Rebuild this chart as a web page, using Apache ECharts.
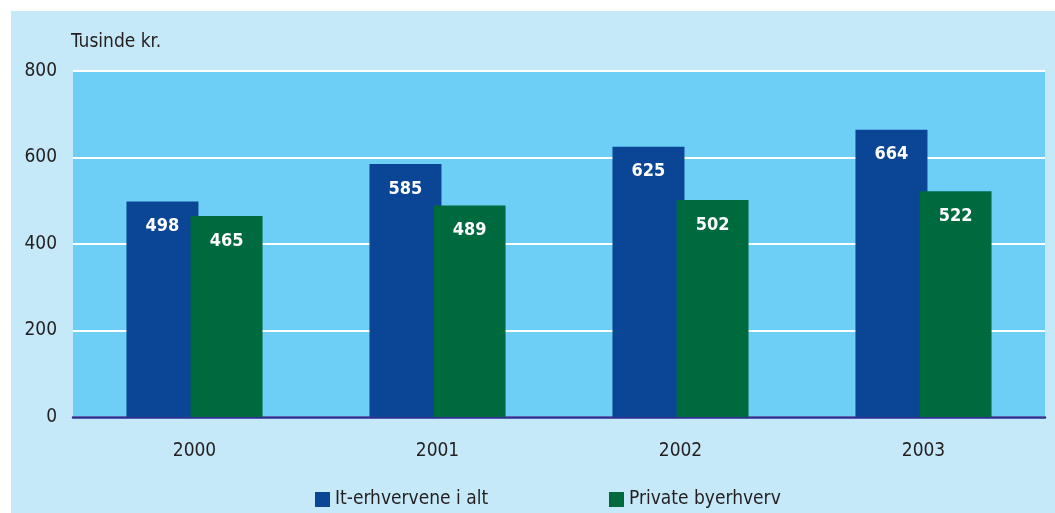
<!DOCTYPE html>
<html>
<head>
<meta charset="utf-8">
<script src="https://cdn.jsdelivr.net/npm/echarts@6/dist/echarts.min.js"></script>
<style>
  html, body { margin: 0; padding: 0; background: #ffffff; }
  #chart { width: 1055px; height: 513px; }
</style>
</head>
<body>
<div id="chart"></div>
<script>
// Average wage, thousand kroner
const years = ['2000', '2001', '2002', '2003'];
const itTotal = [498, 585, 625, 664];
const privateUrban = [465, 489, 502, 522];
const seriesNames = ['It-erhvervene i alt', 'Private byerhverv'];
const unitLabel = 'Tusinde kr.';

const FONT = '"DejaVu Sans Condensed", "Open Sans", sans-serif';
const TEXT = '#231f20';

const chart = echarts.init(document.getElementById('chart'), null, { renderer: 'canvas' });

const barLabel = {
  show: true,
  position: 'insideTop',
  distance: 16,
  color: '#ffffff',
  fontFamily: FONT,
  fontWeight: 'bold',
  fontSize: 18
};

const legendBase = {
  top: 490,
  padding: 0,
  itemWidth: 15, itemHeight: 15,
  icon: 'rect',
  textStyle: { color: TEXT, fontFamily: FONT, fontSize: 19 }
};

chart.setOption({
  animation: false,
  backgroundColor: '#ffffff',
  graphic: [{
    type: 'rect',
    z: -10,
    shape: { x: 11, y: 11, width: 1044, height: 502 },
    style: { fill: '#c6e9f9' }
  }, {
    type: 'text',
    left: 71,
    top: 33,
    style: { text: unitLabel, fill: TEXT, font: '19px ' + FONT }
  }],
  grid: {
    left: 73, right: 10, top: 71, bottom: 96,
    show: true,
    backgroundColor: '#6dcff6',
    borderWidth: 0
  },
  legend: [
    Object.assign({ left: 315, data: [seriesNames[0]] }, legendBase),
    Object.assign({ left: 609, data: [seriesNames[1]] }, legendBase)
  ],
  xAxis: {
    type: 'category',
    data: years,
    axisTick: { show: false },
    axisLine: { show: true, lineStyle: { color: '#2e3192', width: 2.5 } },
    axisLabel: { color: TEXT, fontFamily: FONT, fontSize: 19, margin: 25 }
  },
  yAxis: {
    type: 'value',
    min: 0, max: 800, interval: 200,
    axisLine: { show: false },
    axisTick: { show: false },
    axisLabel: { color: TEXT, fontFamily: FONT, fontSize: 19, margin: 16 },
    splitLine: { show: true, lineStyle: { color: '#ffffff', width: 2 } }
  },
  series: [{
    name: seriesNames[0],
    type: 'bar',
    data: itTotal,
    barWidth: 72,
    barGap: '-11%',
    itemStyle: { color: '#0b4595' },
    label: barLabel
  }, {
    name: seriesNames[1],
    type: 'bar',
    data: privateUrban,
    barWidth: 72,
    itemStyle: { color: '#006a3f' },
    label: barLabel
  }]
});
</script>
</body>
</html>
